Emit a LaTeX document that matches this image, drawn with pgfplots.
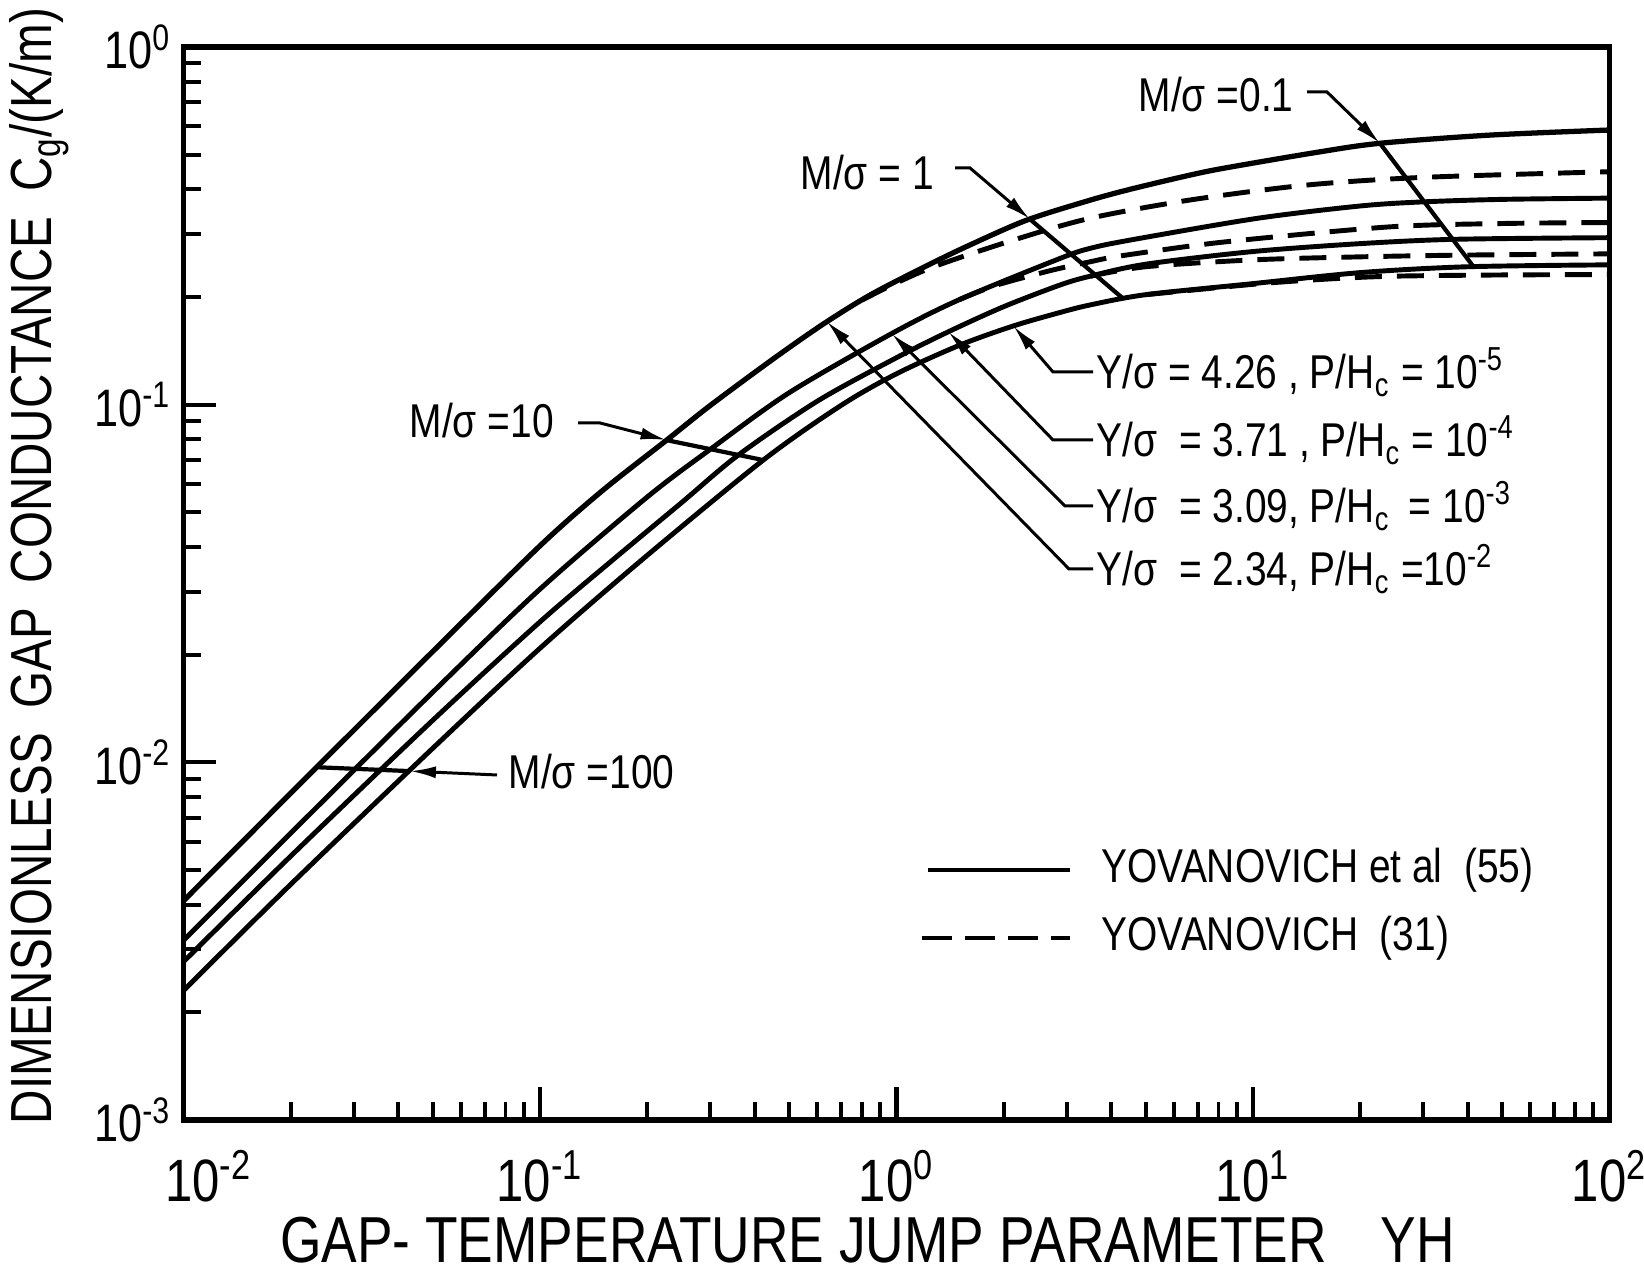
\documentclass[border=0pt]{standalone}
\usepackage{fontspec}
\setmainfont{Liberation Sans}[FakeStretch=0.82]
\usepackage{pgfplots}
\pgfplotsset{compat=1.18}
\usetikzlibrary{arrows.meta}

\begin{document}
\begin{tikzpicture}
\begin{axis}[
  at={(0,0)}, anchor=south west,
  scale only axis, width=142.6mm, height=107.3mm,
  xmode=log, ymode=log,
  xmin=0.01, xmax=100, ymin=0.001, ymax=1,
  xtick={0.01,0.1,1,10,100},
  ytick={0.001,0.01,0.1,1},
  minor xtick={0.02,0.03,0.04,0.05,0.06,0.07,0.08,0.09,0.2,0.3,0.4,0.5,0.6,0.7,0.8,0.9,2,3,4,5,6,7,8,9,20,30,40,50,60,70,80,90},
  minor ytick={0.002,0.003,0.004,0.005,0.006,0.007,0.008,0.009,0.02,0.03,0.04,0.05,0.06,0.07,0.08,0.09,0.2,0.3,0.4,0.5,0.6,0.7,0.8,0.9},
  xticklabels={\hspace*{5mm}10\textsuperscript{-2},10\textsuperscript{-1},10\textsuperscript{0},10\textsuperscript{1},10\textsuperscript{2}},
  yticklabels={10\textsuperscript{-3},10\textsuperscript{-2},10\textsuperscript{-1},10\textsuperscript{0}},
  tick align=inside, tick pos=left,
  major tick length=3.3mm, minor tick length=1.8mm,
  major tick style={line width=1.2pt, black},
  minor tick style={line width=1.1pt, black},
  axis line style={line width=1.5pt},
  xticklabel style={font=\fontsize{17}{19}\selectfont, yshift=-1.8mm},
  yticklabel style={font=\fontsize{15}{17}\selectfont},
]
% solid curves (Yovanovich et al (55))
\addplot[black, line width=1.5pt, smooth] coordinates {
(0.01,0.0041) (0.02,0.0082) (0.05,0.0204) (0.1,0.0403) (0.15,0.0576) (0.2266,0.0796)
(0.3,0.0994) (0.45,0.134) (0.623,0.168) (0.843,0.2025) (1.2,0.243) (1.6,0.279)
(2.318,0.328) (3.49,0.373) (4.52,0.400) (6.5,0.436) (8.26,0.458) (15,0.507)
(22.7,0.538) (46,0.567) (100,0.586)};
\addplot[black, line width=1.4pt, smooth] coordinates {
(0.01,0.00318) (0.02,0.00634) (0.05,0.0157) (0.1,0.0305) (0.2,0.0552) (0.303,0.0755)
(0.5,0.108) (0.969,0.158) (1.5,0.1966) (2.874,0.2563) (3.49,0.2735) (4.52,0.2885)
(10.24,0.3317) (20,0.3594) (30,0.369) (50,0.375) (100,0.378)};
\addplot[black, line width=1.4pt, smooth] coordinates {
(0.01,0.00277) (0.02,0.00547) (0.05,0.0131) (0.1,0.0247) (0.16,0.0368) (0.25,0.0533)
(0.36,0.0723) (0.6,0.1023) (1.0,0.1353) (1.4,0.160) (2.0,0.188) (2.874,0.216)
(3.49,0.2286) (5,0.247) (10,0.268) (20,0.282) (37,0.290) (100,0.293)};
\addplot[black, line width=1.4pt, smooth] coordinates {
(0.01,0.0023) (0.02,0.00456) (0.05,0.01094) (0.1,0.02084) (0.193,0.0368) (0.423,0.07)
(0.7,0.0996) (1.0,0.122) (1.5,0.1465) (2.127,0.166) (2.874,0.181) (3.49,0.19)
(5,0.203) (10,0.218) (20,0.234) (40,0.243) (100,0.246)};
% dashed curves (Yovanovich (31))
\addplot[black, line width=1.4pt, smooth, dash pattern=on 2.7mm off 1.5mm] coordinates {
(0.8,0.196) (1.0,0.219) (1.3,0.245) (2.127,0.2885) (3.49,0.332) (6.66,0.3735)
(14.1,0.411) (30,0.432) (100,0.448)};
\addplot[black, line width=1.4pt, smooth, dash pattern=on 2.7mm off 1.5mm] coordinates {
(1.5,0.1966) (1.9,0.2155) (2.7,0.237) (3.5,0.251) (4.3,0.261) (8.3,0.285)
(24,0.314) (50,0.321) (100,0.323)};
\addplot[black, line width=1.4pt, smooth, dash pattern=on 2.7mm off 1.5mm] coordinates {
(3.5,0.2286) (5,0.243) (10,0.254) (20,0.259) (40,0.262) (100,0.264)};
\addplot[black, line width=1.4pt, smooth, dash pattern=on 2.7mm off 1.5mm] coordinates {
(5,0.203) (10,0.217) (15,0.2235) (24,0.2285) (50,0.2305) (100,0.231)};
% M/sigma cross lines
\addplot[black, line width=1.2pt] coordinates {(22.7,0.538) (41.5,0.2435)};
\addplot[black, line width=1.2pt] coordinates {(2.369,0.330) (4.33,0.1977)};
\addplot[black, line width=1.2pt] coordinates {(0.2266,0.0796) (0.423,0.07)};
\addplot[black, line width=1.2pt] coordinates {(0.02363,0.00969) (0.04317,0.00945)};
% arrow tips
\coordinate (tA) at (axis cs:22.7,0.538);
\coordinate (tB) at (axis cs:2.369,0.330);
\coordinate (tC) at (axis cs:0.2266,0.0796);
\coordinate (tD) at (axis cs:0.04317,0.00945);
\coordinate (y4) at (axis cs:2.127,0.166);
\coordinate (y3) at (axis cs:1.397,0.160);
\coordinate (y2) at (axis cs:0.969,0.158);
\coordinate (y1) at (axis cs:0.637,0.171);
\end{axis}

\begin{scope}[shift={(-18.35mm,112mm)}, x=0.1mm, y=-0.1mm]
\tikzset{ann/.style={line width=0.85pt, -{Latex[length=2.6mm,width=1.2mm]}},
         lab/.style={anchor=west, inner sep=0pt, font=\fontsize{13.5}{15}\selectfont}}
% M/sigma labels
\node[lab] at (1138,95) {M/σ =0.1};
\draw[ann] (1307,92) -- (1327,92) -- (tA);
\node[lab] at (800,173) {M/σ = 1};
\draw[ann] (955,168) -- (970,168) -- (tB);
\node[lab] at (409,421) {M/σ =10};
\draw[ann] (578,423) -- (600,423) -- (tC);
\node[lab] at (508,772) {M/σ =100};
\draw[ann] (497,775) -- (tD);
% Y/sigma labels
\node[lab] at (1096,372) {Y/σ = 4.26 , P/H\textsubscript{c} = 10\textsuperscript{-5}};
\draw[ann] (1093,372) -- (1053,372) -- (y4);
\node[lab] at (1096,440) {Y/σ \ = 3.71 , P/H\textsubscript{c} = 10\textsuperscript{-4}};
\draw[ann] (1093,440) -- (1053,440) -- (y3);
\node[lab] at (1096,506) {Y/σ \ = 3.09, P/H\textsubscript{c} \,= 10\textsuperscript{-3}};
\draw[ann] (1093,506) -- (1065,506) -- (y2);
\node[lab] at (1096,569) {Y/σ \ = 2.34, P/H\textsubscript{c} =10\textsuperscript{-2}};
\draw[ann] (1093,569) -- (1069,569) -- (y1);
% legend
\draw[line width=1.4pt] (928,870) -- (1070,870);
\node[lab] at (1101,870) {YOVANOVICH et al \ (55)};
\draw[line width=1.4pt, dash pattern=on 3mm off 1.3mm] (922,938) -- (1070,938);
\node[lab] at (1101,938) {YOVANOVICH \ (31)};
% axis labels
\node[rotate=90, anchor=center, inner sep=0pt, font=\fontsize{16.5}{18}\selectfont] at (39,566)
  {DIMENSIONLESS\hspace{0.2em} GAP\hspace{0.2em} CONDUCTANCE\hspace{0.2em} C\textsubscript{g}/(K/m)};
\node[anchor=center, inner sep=0pt, font=\fontsize{18.5}{20}\selectfont] at (867.5,1240)
  {GAP- TEMPERATURE JUMP PARAMETER\hspace{0.6em} YH};
\end{scope}
\pgfresetboundingbox
\path[use as bounding box] (-18.35mm,-15.7mm) rectangle (146.05mm,112mm);
\end{tikzpicture}
\end{document}
